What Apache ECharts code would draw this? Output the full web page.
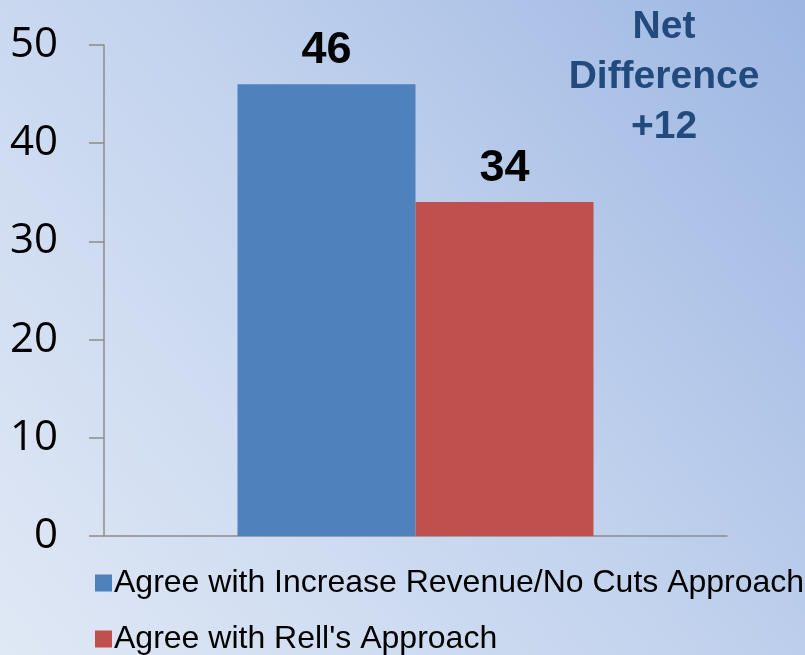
<!DOCTYPE html>
<html>
<head>
<meta charset="utf-8">
<script src="https://cdn.jsdelivr.net/npm/echarts@6/dist/echarts.min.js"></script>
<style>
  html, body { margin: 0; padding: 0; }
  #chart { width: 805px; height: 655px; }
</style>
</head>
<body>
<div id="chart"></div>
<script>
const categories = [''];
const seriesNames = ['Agree with Increase Revenue/No Cuts Approach', "Agree with Rell's Approach"];
const revenueValues = [46];
const rellValues = [34];
const yTicks = { min: 0, max: 50, interval: 10 };
const noteLines = ['Net', 'Difference', '+12'];

const chart = echarts.init(document.getElementById('chart'));

const barLabel = {
  show: true,
  position: 'top',
  distance: 11,
  color: '#000',
  fontSize: 45,
  fontWeight: 'bold',
  fontFamily: 'Liberation Sans, Arial, sans-serif'
};

const legendText = {
  fontSize: 32,
  lineHeight: 17,
  padding: [0, 0, 0, -3],
  color: '#000',
  fontFamily: 'Liberation Sans, Arial, sans-serif'
};

chart.setOption({
  backgroundColor: {
    type: 'linear', x: 0, y: 1, x2: 1, y2: 0,
    colorStops: [
      { offset: 0, color: '#e0e8f5' },
      { offset: 0.5, color: '#c4d4ee' },
      { offset: 1, color: '#9db6e2' }
    ]
  },
  animation: false,
  grid: { left: 104, right: 78, top: 45, bottom: 119, containLabel: false },
  legend: [
    {
      left: 90,
      top: 562,
      itemWidth: 17,
      itemHeight: 17,
      itemGap: 7,
      icon: 'rect',
      textStyle: legendText,
      data: [seriesNames[0]]
    },
    {
      left: 90,
      top: 618,
      itemWidth: 17,
      itemHeight: 17,
      itemGap: 7,
      icon: 'rect',
      textStyle: legendText,
      data: [seriesNames[1]]
    }
  ],
  xAxis: {
    type: 'category',
    data: categories,
    axisLine: { lineStyle: { color: '#8c8c8c', width: 1.5 } },
    axisTick: { show: false },
    axisLabel: { show: false }
  },
  yAxis: {
    type: 'value',
    min: yTicks.min,
    max: yTicks.max,
    interval: yTicks.interval,
    splitLine: { show: false },
    axisLine: { show: true, lineStyle: { color: '#8c8c8c', width: 1.5 } },
    axisTick: { show: true, length: 15, lineStyle: { color: '#8c8c8c', width: 1.5 } },
    axisLabel: {
      margin: 46,
      fontSize: 42,
      color: '#000',
      fontFamily: 'Open Sans, sans-serif'
    }
  },
  series: [
    {
      name: seriesNames[0],
      type: 'bar',
      data: revenueValues,
      barWidth: 178,
      barGap: '0%',
      itemStyle: { color: '#4f81bd' },
      label: barLabel
    },
    {
      name: seriesNames[1],
      type: 'bar',
      data: rellValues,
      barWidth: 178,
      barGap: '0%',
      itemStyle: { color: '#c0504d' },
      label: barLabel
    }
  ],
  graphic: [
    {
      type: 'text',
      x: 664,
      y: 2,
      style: {
        text: noteLines.join('\n'),
        align: 'center',
        fill: '#234a7c',
        fontSize: 39,
        fontWeight: 'bold',
        lineHeight: 50,
        fontFamily: 'Liberation Sans, Arial, sans-serif'
      }
    }
  ]
});

window.addEventListener('resize', () => chart.resize());
</script>
</body>
</html>
